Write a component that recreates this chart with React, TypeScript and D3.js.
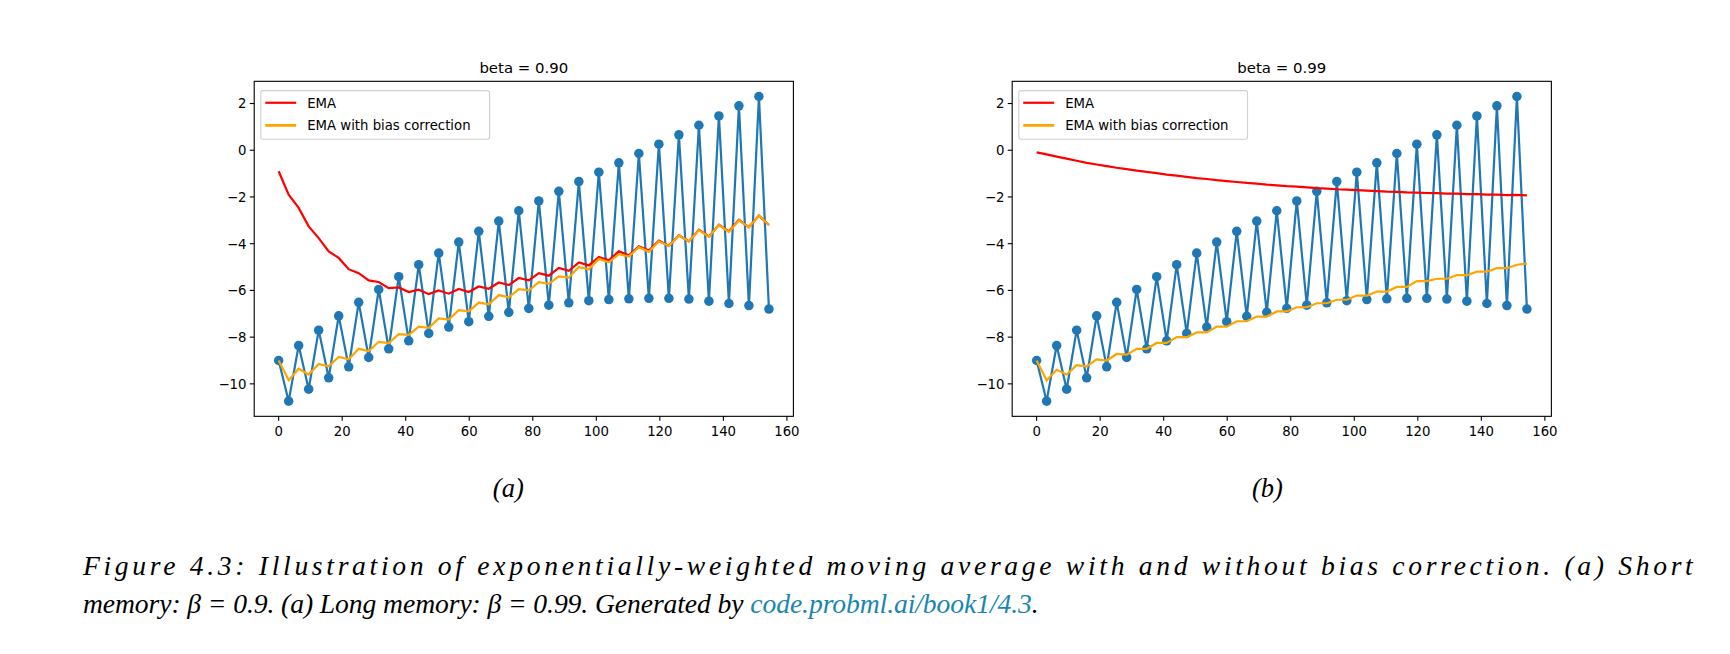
import React from 'react';
import * as d3 from 'd3';

// sample positions (step index * 3.15)
const xs = [0, 3.15, 6.3, 9.45, 12.6, 15.75, 18.9, 22.05, 25.2, 28.35, 31.5, 34.65, 37.8, 40.95, 44.1, 47.25, 50.4, 53.55, 56.7, 59.85, 63, 66.15, 69.3, 72.45, 75.6, 78.75, 81.9, 85.05, 88.2, 91.35, 94.5, 97.65, 100.8, 103.95, 107.1, 110.25, 113.4, 116.55, 119.7, 122.85, 126, 129.15, 132.3, 135.45, 138.6, 141.75, 144.9, 148.05, 151.2, 154.35];

const signal = [-9.0, -10.74, -8.36, -10.23, -7.7, -9.74, -7.09, -9.27, -6.51, -8.87, -5.96, -8.5, -5.41, -8.16, -4.9, -7.84, -4.4, -7.57, -3.93, -7.34, -3.47, -7.11, -3.03, -6.94, -2.59, -6.77, -2.17, -6.63, -1.76, -6.53, -1.34, -6.44, -0.94, -6.39, -0.54, -6.36, -0.14, -6.34, 0.26, -6.34, 0.66, -6.37, 1.07, -6.46, 1.47, -6.56, 1.9, -6.65, 2.3, -6.8];

const emaA = [-0.9, -1.9, -2.47, -3.26, -3.76, -4.33, -4.61, -5.09, -5.26, -5.57, -5.64, -5.9, -5.87, -6.07, -5.97, -6.16, -6.0, -6.14, -5.94, -6.07, -5.83, -5.93, -5.66, -5.77, -5.47, -5.57, -5.26, -5.37, -5.04, -5.16, -4.8, -4.93, -4.57, -4.71, -4.33, -4.5, -4.11, -4.29, -3.87, -4.09, -3.64, -3.9, -3.4, -3.69, -3.19, -3.47, -2.98, -3.3, -2.8, -3.2];
const biasA = [-9.0, -9.85, -9.35, -9.6, -9.15, -9.25, -8.85, -8.95, -8.5, -8.6, -8.2, -8.25, -7.87, -7.9, -7.55, -7.6, -7.2, -7.25, -6.85, -6.9, -6.52, -6.6, -6.2, -6.3, -5.95, -6.0, -5.65, -5.72, -5.4, -5.45, -5.0, -5.1, -4.65, -4.8, -4.45, -4.55, -4.15, -4.35, -3.9, -4.1, -3.65, -3.9, -3.42, -3.7, -3.2, -3.5, -3.0, -3.3, -2.8, -3.2];

const emaB = [-0.09, -0.18, -0.27, -0.36, -0.45, -0.54, -0.61, -0.68, -0.75, -0.81, -0.87, -0.93, -0.98, -1.04, -1.09, -1.14, -1.19, -1.23, -1.28, -1.32, -1.36, -1.4, -1.43, -1.47, -1.5, -1.54, -1.56, -1.59, -1.62, -1.64, -1.67, -1.69, -1.71, -1.73, -1.75, -1.77, -1.78, -1.8, -1.81, -1.83, -1.84, -1.86, -1.86, -1.88, -1.88, -1.9, -1.9, -1.92, -1.91, -1.93];
const biasB = [-9.0, -9.85, -9.4, -9.6, -9.2, -9.25, -8.95, -9.0, -8.72, -8.75, -8.5, -8.5, -8.25, -8.25, -8.0, -8.0, -7.8, -7.8, -7.55, -7.55, -7.32, -7.32, -7.12, -7.12, -6.9, -6.9, -6.72, -6.72, -6.55, -6.55, -6.4, -6.4, -6.22, -6.22, -6.05, -6.05, -5.85, -5.85, -5.6, -5.6, -5.5, -5.5, -5.35, -5.35, -5.2, -5.2, -5.05, -5.05, -4.9, -4.85];

const xTicks = [0, 20, 40, 60, 80, 100, 120, 140, 160];
const yTicks = [2, 0, -2, -4, -6, -8, -10];

const font = 'DejaVu Sans, sans-serif';
const fmt = (t: number) => (t < 0 ? '\u2212' + Math.abs(t) : String(t));

function Panel({ left, title, ema, bias }: { left: number; title: string; ema: number[]; bias: number[] }) {
  const w = 488;
  const top = 73.6;
  const bottom = 376.8;
  const x = d3.scaleLinear().domain([-7.7, 162.05]).range([left, left + w]);
  const y = d3.scaleLinear().domain([-11.39, 2.95]).range([bottom, top]);
  const line = d3
    .line<number>()
    .x((_, i) => x(xs[i]))
    .y((v) => y(v));
  return (
    <g>
      <text x={left + w / 2} y={66} textAnchor="middle" fontFamily={font} fontSize={13.5}>
        {title}
      </text>
      <path d={line(signal) || ''} fill="none" stroke="#1f77b4" strokeWidth={2} />
      {signal.map((v, i) => (
        <circle key={i} cx={x(xs[i])} cy={y(v)} r={4.3} fill="#1f77b4" />
      ))}
      <path d={line(ema) || ''} fill="none" stroke="red" strokeWidth={2} />
      <path d={line(bias) || ''} fill="none" stroke="orange" strokeWidth={2} />
      <rect x={left} y={top} width={w} height={bottom - top} fill="none" stroke="black" strokeWidth={1} />
      {xTicks.map((t) => (
        <g key={t}>
          <line x1={x(t)} x2={x(t)} y1={bottom} y2={bottom + 4} stroke="black" />
          <text x={x(t)} y={bottom + 18} textAnchor="middle" fontFamily={font} fontSize={12}>
            {fmt(t)}
          </text>
        </g>
      ))}
      {yTicks.map((t) => (
        <g key={t}>
          <line x1={left - 4} x2={left} y1={y(t)} y2={y(t)} stroke="black" />
          <text x={left - 7} y={y(t) + 4.5} textAnchor="end" fontFamily={font} fontSize={12}>
            {fmt(t)}
          </text>
        </g>
      ))}
      <rect x={left + 6} y={82} width={207} height={44} fill="white" stroke="#d0d0d0" rx={2} />
      <line x1={left + 10} x2={left + 38} y1={93} y2={93} stroke="red" strokeWidth={2} />
      <text x={left + 48} y={97.5} fontFamily={font} fontSize={12}>EMA</text>
      <line x1={left + 10} x2={left + 38} y1={113.5} y2={113.5} stroke="orange" strokeWidth={2.5} />
      <text x={left + 48} y={118} fontFamily={font} fontSize={12}>EMA with bias correction</text>
    </g>
  );
}

export default function App() {
  const serif = 'Liberation Serif, DejaVu Serif, serif';
  return (
    <svg width={1730} height={654} style={{ display: 'block', position: 'absolute', left: 0, top: 0 }} viewBox="0 0 1565.6 591.9">
      <rect width={1566} height={592} fill="white" />
      <Panel left={230} title="beta = 0.90" ema={emaA} bias={biasA} />
      <Panel left={916} title="beta = 0.99" ema={emaB} bias={biasB} />
      <text x={460} y={450} textAnchor="middle" fontFamily={serif} fontStyle="italic" fontSize={24}>(a)</text>
      <text x={1147} y={450} textAnchor="middle" fontFamily={serif} fontStyle="italic" fontSize={24}>(b)</text>
      <text x={75} y={520} fontFamily={serif} fontStyle="italic" fontSize={25} textLength={1457} lengthAdjust="spacing">
        Figure 4.3: Illustration of exponentially-weighted moving average with and without bias correction. (a) Short
      </text>
      <text x={75} y={555} fontFamily={serif} fontStyle="italic" fontSize={25} textLength={865} lengthAdjust="spacing">
        memory: β = 0.9. (a) Long memory: β = 0.99. Generated by{' '}
        <tspan fill="#1a86ad">code.probml.ai/book1/4.3</tspan>.
      </text>
    </svg>
  );
}
